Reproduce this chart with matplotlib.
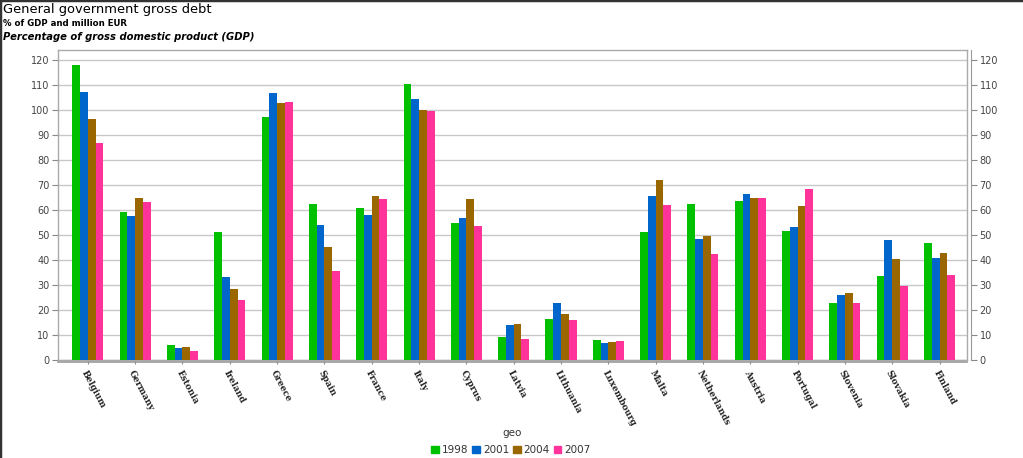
import matplotlib
matplotlib.use("Agg")
import matplotlib.pyplot as plt
import numpy as np
from matplotlib.lines import Line2D
from matplotlib.patches import Rectangle

countries = ["Belgium", "Germany", "Estonia", "Ireland", "Greece", "Spain",
             "France", "Italy", "Cyprus", "Latvia", "Lithuania", "Luxembourg",
             "Malta", "Netherlands", "Austria", "Portugal", "Slovenia",
             "Slovakia", "Finland"]
years = ["1998", "2001", "2004", "2007"]

debt_1998 = [118.1, 59.3, 6.0, 51.4, 97.2, 62.4, 60.9, 110.6, 54.7, 9.1,
             16.5, 8.2, 51.1, 62.4, 63.5, 51.7, 22.8, 33.7, 46.9]
debt_2001 = [107.4, 57.6, 4.8, 33.1, 107.0, 54.2, 58.1, 104.5, 56.9, 13.9,
             22.9, 6.9, 65.5, 48.6, 66.4, 53.3, 26.0, 48.2, 40.8]
debt_2004 = [96.4, 64.7, 5.2, 28.3, 102.8, 45.3, 65.6, 100.0, 64.5, 14.3,
             18.6, 7.3, 71.9, 49.7, 64.7, 61.8, 26.8, 40.4, 42.7]
debt_2007 = [86.9, 63.4, 3.6, 24.0, 103.1, 35.5, 64.3, 99.7, 53.8, 8.4,
             15.9, 7.8, 62.2, 42.3, 64.7, 68.4, 22.8, 29.8, 33.9]

series = [debt_1998, debt_2001, debt_2004, debt_2007]
colors = ["#00c000", "#0066cc", "#996600", "#ff3399"]

fig = plt.figure(figsize=(10.23, 4.58), dpi=100)
ax = fig.add_axes([58 / 1023, 1 - 360 / 458, 909 / 1023, 310 / 458])

x = np.arange(len(countries))
bw = 0.164
for i, vals in enumerate(series):
    ax.bar(x + (i - 1.5) * bw, vals, bw, color=colors[i], linewidth=0, zorder=3)

ax.set_xlim(-0.63, 18.58)
ax.set_ylim(0, 124)
ax.set_yticks(np.arange(0, 121, 10))
ax.yaxis.grid(True, color="#c8c8c8", linewidth=1, zorder=0)
ax.set_xticks(x)
ax.set_xticklabels([])
ax.tick_params(axis="x", length=3, color="#888888")
ax.tick_params(axis="y", length=4, color="#888888", labelsize=7,
               labelcolor="#444444", pad=2)
for s in ax.spines.values():
    s.set_color("#aaaaaa")
    s.set_linewidth(1.0)

# rotated country labels
for xi, name in zip(x, countries):
    ax.annotate(name, (xi, 0), xycoords=("data", "axes fraction"),
                xytext=(-3, -8), textcoords="offset points",
                rotation=-62, rotation_mode="anchor", ha="left", va="center",
                fontsize=6.3, fontfamily="DejaVu Serif", fontweight="bold",
                color="#222222")

# bottom axis line under plot frame
fig.add_artist(Line2D([58 / 1023, 967 / 1023], [1 - 362 / 458] * 2,
                      color="#999999", linewidth=1.2))

# right axis
ax2 = ax.twinx()
ax2.set_ylim(ax.get_ylim())
ax2.set_yticks(np.arange(0, 121, 10))
ax2.tick_params(axis="y", length=4, color="#888888", labelsize=7,
                labelcolor="#444444", pad=2)
for k in ["left", "top", "bottom"]:
    ax2.spines[k].set_visible(False)
ax2.spines["right"].set_position(("outward", 3))
ax2.spines["right"].set_color("#999999")

# titles
fig.text(3 / 1023, 1 - 10 / 458, "General government gross debt",
         fontsize=9.4, va="center", ha="left", color="black")
fig.text(3 / 1023, 1 - 24 / 458, "% of GDP and million EUR",
         fontsize=6.2, fontweight="bold", va="center", ha="left")
fig.text(3 / 1023, 1 - 37 / 458, "Percentage of gross domestic product (GDP)",
         fontsize=7.2, fontweight="bold", fontstyle="italic", va="center", ha="left")

fig.text(512 / 1023, 1 - 433 / 458, "geo", fontsize=7.5, ha="center",
         va="center", color="#333333")

handles = [Rectangle((0, 0), 1, 1, color=c) for c in colors]
fig.legend(handles, years, loc="center", bbox_to_anchor=(511 / 1023, 1 - 450 / 458),
           ncol=4, frameon=False, fontsize=7.5, handlelength=0.7,
           handleheight=0.7, handletextpad=0.3, columnspacing=0.4,
           labelcolor="#333333")

# figure border on top and left
fig.add_artist(Line2D([0, 0], [0, 1], color="#333333", linewidth=2.5))
fig.add_artist(Line2D([0, 1], [1, 1], color="#333333", linewidth=2.5))

fig.savefig("out.png", dpi=100)
